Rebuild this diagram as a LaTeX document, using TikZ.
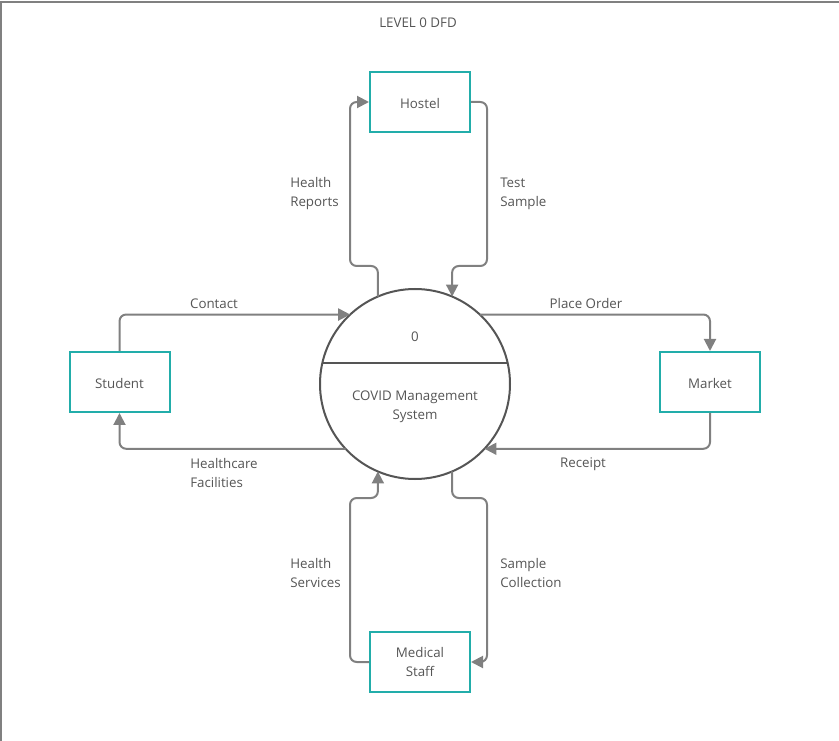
\documentclass[tikz,border=0pt]{standalone}
\usepackage{fontspec}
\setmainfont{Open Sans}
\usetikzlibrary{arrows.meta,calc}
\definecolor{boxteal}{HTML}{22ADAA}
\definecolor{flowgray}{HTML}{808080}
\definecolor{txtgray}{HTML}{555555}
\begin{document}
\begin{tikzpicture}[x=0.75pt,y=-0.75pt,
  font=\fontsize{10}{14.25}\selectfont, text=txtgray,
  entity/.style={draw=boxteal, line width=1.5pt, minimum width=75pt, minimum height=45pt, align=center},
  oneline/.style={entity, text height=10.5pt},
  process/.style={draw=txtgray, line width=1.5pt, circle, minimum size=142.5pt, inner sep=0pt, outer sep=0pt},
  flow/.style={draw=flowgray, line width=1.5pt, rounded corners=5pt, -{Triangle[length=9pt,width=9pt]}},
  lbl/.style={align=left, anchor=west, inner sep=0pt}]
\useasboundingbox (0,0) rectangle (839,741);
% frame
\draw[flowgray, line width=1.5pt] (1,741) -- (1,2) -- (839,2);
\node at (418,23) {LEVEL 0 DFD};
% process
\node[process] (sys) at (415,384) {};
\draw[txtgray, line width=1.5pt] ($(sys.center)+(-92.6,-21)$) -- ($(sys.center)+(92.6,-21)$);
\node (num) at (415,337) {0};
\node[align=center] (sysname) at (415,407) {COVID Management\\System};
% entities
\node[oneline] (hostel) at (420,102) {Hostel};
\node[oneline] (student) at (119.5,382) {Student};
\node[oneline] (market) at (710,382) {Market};
\node[entity] (medical) at (420,662) {Medical\\Staff};
% flows
\draw[flow] (sys.113) |- (350,266) |- (hostel.west);
\draw[flow] (hostel.east) -| (487,266) -| (sys.67);
\draw[flow] (student.north) |- (sys.133);
\draw[flow] (sys.223) -| (student.south);
\draw[flow] (sys.47) -| (market.north);
\draw[flow] (market.south) |- (sys.317);
\draw[flow] (medical.west) -| (350,498) -| (sys.247);
\draw[flow] (sys.293) |- (487,498) |- (medical.east);
% labels
\node[lbl] (hreports) at (290,194) {Health\\Reports};
\node[lbl] (tsample) at (500,194) {Test\\Sample};
\node (contact) at (214,304) {Contact};
\node (porder) at (586,304) {Place Order};
\node[lbl] (hfacil) at (190,473) {Healthcare\\Facilities};
\node (receipt) at (583,464) {Receipt};
\node[lbl] (hserv) at (290,573) {Health\\Services};
\node[lbl] (scoll) at (500,573) {Sample\\Collection};
\end{tikzpicture}
\end{document}
